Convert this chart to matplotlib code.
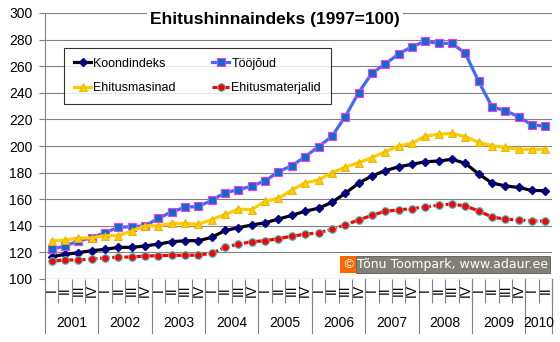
import numpy as np
import matplotlib
matplotlib.use("Agg")
import matplotlib.pyplot as plt
from matplotlib.lines import Line2D
import matplotlib.transforms as mtransforms

plt.rcParams["font.family"] = ["Liberation Sans", "DejaVu Sans"]

# ---- data (quarterly, 2001 Q1 .. 2010 Q2) ---------------------------------
years = ["2001", "2002", "2003", "2004", "2005", "2006", "2007", "2008", "2009", "2010"]
quarters = ["I", "II", "III", "IV"]
n_quarters_per_year = [4, 4, 4, 4, 4, 4, 4, 4, 4, 2]

koondindeks = [116.8, 118.5, 119.8, 121.3, 122.3, 123.8, 123.8, 124.8, 126.3, 128.0,
               128.8, 128.8, 131.3, 136.5, 138.6, 140.6, 142.3, 145.1, 147.8, 151.0,
               153.2, 157.6, 164.4, 172.0, 177.5, 181.4, 184.4, 186.2, 188.2, 188.7,
               190.0, 187.0, 179.0, 172.2, 170.0, 168.8, 166.6, 166.4]
toojoud = [122.5, 124.8, 128.6, 131.0, 134.8, 138.9, 139.3, 140.0, 145.6, 150.6,
           153.9, 154.6, 159.1, 165.0, 167.1, 169.9, 173.8, 180.7, 185.2, 192.0,
           199.5, 207.2, 222.0, 240.0, 254.7, 261.7, 269.2, 274.7, 278.7, 277.2,
           277.2, 269.7, 248.6, 229.5, 226.6, 222.0, 215.8, 215.0]
ehitusmasinad = [128.6, 129.3, 130.6, 131.0, 132.6, 132.6, 136.1, 140.0, 140.0, 141.8,
                 141.8, 141.1, 144.7, 148.5, 152.5, 152.2, 158.4, 160.7, 166.9, 172.4,
                 174.4, 179.9, 184.0, 187.5, 191.2, 195.7, 200.0, 202.0, 207.5, 208.8,
                 209.5, 207.0, 202.8, 200.2, 199.0, 197.5, 197.5, 197.5]
ehitusmaterjalid = [113.3, 114.3, 114.3, 115.0, 115.8, 116.5, 116.5, 117.3, 117.5, 117.8,
                    117.8, 118.0, 119.3, 123.8, 126.3, 128.0, 128.8, 130.3, 132.2, 133.7,
                    134.7, 137.4, 140.6, 144.4, 147.8, 151.0, 151.9, 153.0, 154.1, 155.5,
                    156.4, 154.9, 151.2, 146.6, 145.0, 144.4, 143.6, 143.6]

GRID = "#808080"

fig = plt.figure(figsize=(5.6, 3.42), dpi=100)
ax = fig.add_axes([45 / 560, 1 - 279 / 342, 507 / 560, 266 / 342])

x = np.arange(len(koondindeks))
lw = 2.3

h_koond, = ax.plot(x, koondindeks, color="black", lw=lw, marker="D", ms=4.2,
                   mfc="#000080", mec="#000080", label="Koondindeks", zorder=4)
h_too, = ax.plot(x, toojoud, color="#3D6BFF", lw=lw, marker="s", ms=5.5,
                 mfc="#0B6FC4", mec="#FF33FF", mew=0.8, label="Tööjõud", zorder=4)
h_mas, = ax.plot(x, ehitusmasinad, color="#FFCC00", lw=lw, marker="^", ms=5.5,
                 mfc="#FFCC00", mec="#E0B000", mew=0.6, label="Ehitusmasinad", zorder=4)
h_mat, = ax.plot(x, ehitusmaterjalid, color="#FF0000", lw=lw, ls=(0, (3, 0.8)),
                 marker="o", ms=5.5, mfc="#FF0000", mec="#33CCCC", mew=0.8,
                 label="Ehitusmaterjalid", zorder=4)

ax.set_xlim(-0.5, len(koondindeks) - 0.5)
ax.set_ylim(100, 300)
ax.set_yticks(np.arange(100, 301, 20))
ax.grid(axis="y", color=GRID, lw=0.8)
ax.set_axisbelow(True)

for s in ("top", "right", "bottom"):
    ax.spines[s].set_visible(False)
ax.spines["left"].set_color(GRID)
ax.spines["left"].set_linewidth(0.8)

ax.tick_params(axis="y", length=4.5, width=0.8, color=GRID, pad=4.5,
               labelsize=10, labelcolor="black")

# category axis: quarter boundaries as ticks, labels drawn as text
bounds = np.arange(-0.5, len(koondindeks), 1.0)
ax.set_xticks(bounds)
ax.set_xticklabels([])
ax.tick_params(axis="x", length=17, width=0.8, color=GRID)
ax.axhline(100, color=GRID, lw=0.8, zorder=1)

trans = mtransforms.blended_transform_factory(ax.transData, ax.transAxes)
i = 0
start = 0
for yr, nq in zip(years, n_quarters_per_year):
    for q in range(nq):
        ax.text(i, -11 / 266, quarters[q], transform=trans, rotation=90,
                ha="center", va="center", fontsize=10)
        i += 1
    ax.add_line(Line2D([start - 0.5, start - 0.5], [0, -54 / 266], transform=trans,
                       color=GRID, lw=0.8, clip_on=False))
    ax.text(start + (nq - 1) / 2, -44 / 266, yr, transform=trans,
            ha="center", va="center", fontsize=10)
    start += nq
ax.add_line(Line2D([start - 0.5, start - 0.5], [0, -54 / 266], transform=trans,
                   color=GRID, lw=0.8, clip_on=False))

# legend (column-major order so rows read Koondindeks/Tööjõud, Ehitusmasinad/Ehitusmaterjalid)
leg = ax.legend([h_koond, h_mas, h_too, h_mat],
                ["Koondindeks", "Ehitusmasinad", "Tööjõud", "Ehitusmaterjalid"],
                loc="upper left", bbox_to_anchor=(0.037, 0.87), ncol=2,
                fontsize=9, frameon=True, fancybox=False, edgecolor="black",
                handlelength=1.4, handletextpad=0.15, columnspacing=2.9,
                labelspacing=1.0, borderpad=0.8, borderaxespad=0)
leg.get_frame().set_linewidth(0.8)

# title
fig.text(0.491, 0.943, "Ehitushinnaindeks (1997=100)", ha="center", va="center",
         fontsize=12.5, weight="bold",
         bbox=dict(facecolor="white", edgecolor="none", pad=2))

# watermark
ax.text(0.598, 0.055, "©", transform=ax.transAxes, ha="center", va="center",
        fontsize=9, color="white", family="DejaVu Sans",
        bbox=dict(facecolor="#FF6600", edgecolor="none", boxstyle="square,pad=0.15"))
ax.text(0.993, 0.055, "Tõnu Toompark, www.adaur.ee", transform=ax.transAxes,
        ha="right", va="center", fontsize=9, color="white", family="DejaVu Sans",
        bbox=dict(facecolor="#808078", edgecolor="#5a5a50", lw=0.6,
                  boxstyle="square,pad=0.15"), zorder=5)

fig.savefig("out.png", dpi=100)
